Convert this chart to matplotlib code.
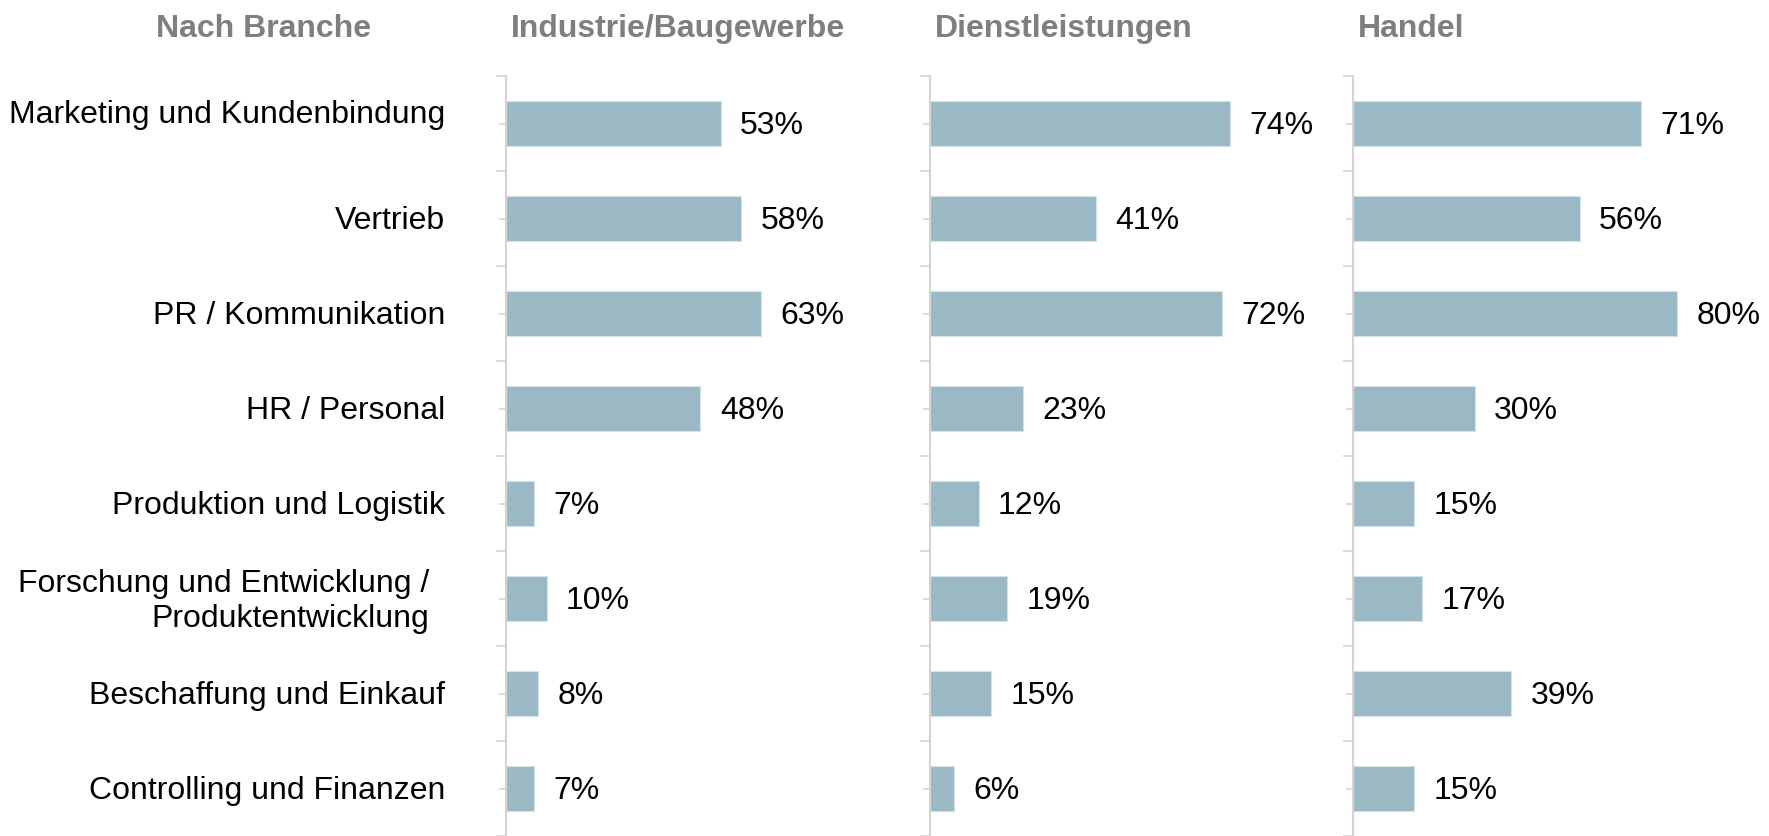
import numpy as np
import matplotlib
matplotlib.use("Agg")
import matplotlib.pyplot as plt

plt.rcParams['font.family'] = ['Liberation Sans', 'DejaVu Sans']

categories = [
    "Marketing und Kundenbindung",
    "Vertrieb",
    "PR / Kommunikation",
    "HR / Personal",
    "Produktion und Logistik",
    "Forschung und Entwicklung /\nProduktentwicklung",
    "Beschaffung und Einkauf",
    "Controlling und Finanzen",
]
panels = ["Industrie/Baugewerbe", "Dienstleistungen", "Handel"]
industrie = [53, 58, 63, 48, 7, 10, 8, 7]
dienstleistungen = [74, 41, 72, 23, 12, 19, 15, 6]
handel = [71, 56, 80, 30, 15, 17, 39, 15]
series = [industrie, dienstleistungen, handel]

bar_color = '#9bb9c4'
axis_color = '#d4d4d4'
header_color = '#7f7f7f'

W, H = 1769, 836
fig = plt.figure(figsize=(W / 100, H / 100), dpi=100)

lefts = [506, 930, 1353]
ypos = np.arange(len(categories))

# small per-label nudges (points) to follow the original's label placement
label_dx = {5: -11}
label_dy = {0: 8}

for i, (name, vals) in enumerate(zip(panels, series)):
    ax = fig.add_axes([lefts[i] / W, 0, 405 / W, 760 / H])
    ax.barh(ypos, vals, height=0.48, color=bar_color, edgecolor='#d2e2e8', linewidth=0.8)
    ax.set_xlim(0, 100)
    ax.set_ylim(7.38, -0.5)
    for s in ['top', 'right', 'bottom']:
        ax.spines[s].set_visible(False)
    ax.spines['left'].set_color(axis_color)
    ax.spines['left'].set_linewidth(1.5)
    ax.set_xticks([])
    ax.set_yticks(ypos)
    ax.set_yticklabels([])
    ax.set_yticks(np.arange(-0.5, len(categories), 1.0), minor=True)
    ax.tick_params(axis='y', which='major', length=5, width=1.2, color=axis_color)
    ax.tick_params(axis='y', which='minor', length=7.5, width=1.2, color=axis_color)
    if i == 0:
        for k, (y, cat) in enumerate(zip(ypos, categories)):
            ax.annotate(cat, (0, y), xycoords=('axes fraction', 'data'),
                        xytext=(-44 + label_dx.get(k, 0), -2 + label_dy.get(k, 0)),
                        textcoords='offset points', ha='right', va='center',
                        fontsize=23, annotation_clip=False)
    for y, v in zip(ypos, vals):
        ax.annotate(f"{v}%", (v, y), xytext=(14, -2), textcoords='offset points',
                    va='center', ha='left', fontsize=23, annotation_clip=False)
    ax.text(0.012, 1.062, name, transform=ax.transAxes, fontsize=23, fontweight='bold',
            color=header_color, ha='left', va='center')
    if i == 0:
        ax.text(-0.598, 1.062, "Nach Branche", transform=ax.transAxes, fontsize=23,
                fontweight='bold', color=header_color, ha='center', va='center')

fig.savefig("out.png", dpi=100)
